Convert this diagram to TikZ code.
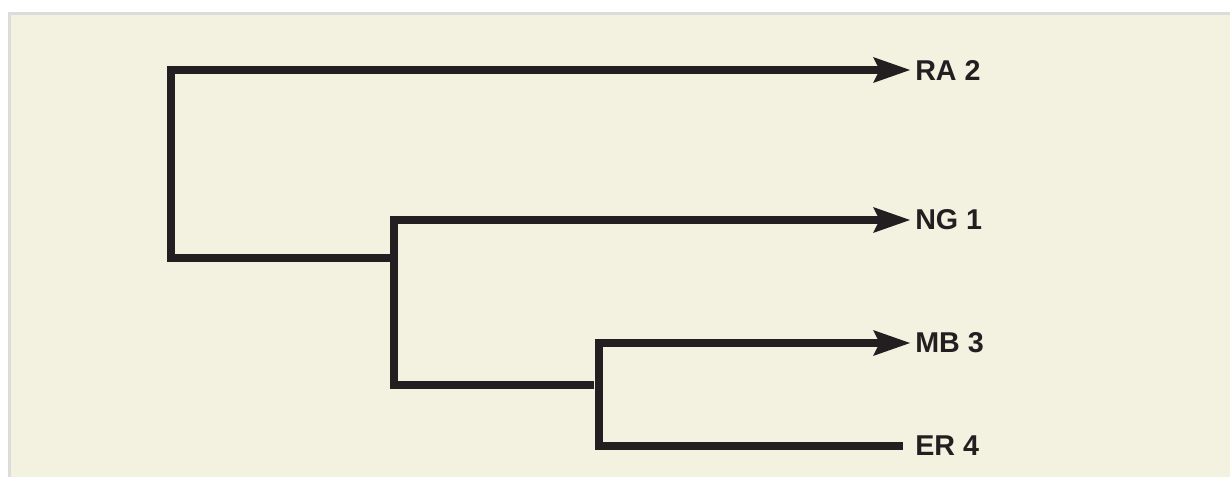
\documentclass[tikz,border=0pt]{standalone}
\usepackage{fontspec}
\setmainfont{Liberation Sans}
\usetikzlibrary{arrows.meta,calc}
\definecolor{paper}{RGB}{243,241,224}
\definecolor{frame}{RGB}{220,220,218}
\definecolor{ink}{RGB}{35,31,32}
\begin{document}
\begin{tikzpicture}[x=0.75pt,y=-0.75pt,
  branch/.style={draw=ink,line width=6pt,miter limit=10},
  tip/.style={-{Stealth[length=27.75pt,width=19.5pt,inset=5pt,line width=0pt]}},
  taxon/.style={anchor=west,inner xsep=3.75pt,inner ysep=0pt,text=ink,font=\fontsize{21.5}{24}\selectfont\bfseries}]
\useasboundingbox (0,0) rectangle (1230,477);
\fill[white] (0,0) rectangle (1230,477);
\fill[frame] (8,12) rectangle (1230,477);
\fill[paper] (11,15) rectangle (1230,477);
% junctions
\coordinate (root) at (171,258);
\coordinate (j1) at (390,258);
\coordinate (n1) at (394,385);
\coordinate (j2) at (594,385);
\coordinate (n2) at (599,343);
% taxa
\node[taxon] (ra) at (910,70) {RA 2};
\node[taxon] (ng) at (910,220) {NG 1};
\node[taxon] (mb) at (910,343) {MB 3};
\node[taxon] (er) at (910,446) {ER 4};
% tree
\draw[branch,tip] (j1) -- (root) |- (ra.west);
\draw[branch,tip] (j2) -- (n1) |- (ng.west);
\draw[branch,tip] ($(er.west)+(-7,0)$) -| (n2) -- (mb.west);
\end{tikzpicture}
\end{document}
